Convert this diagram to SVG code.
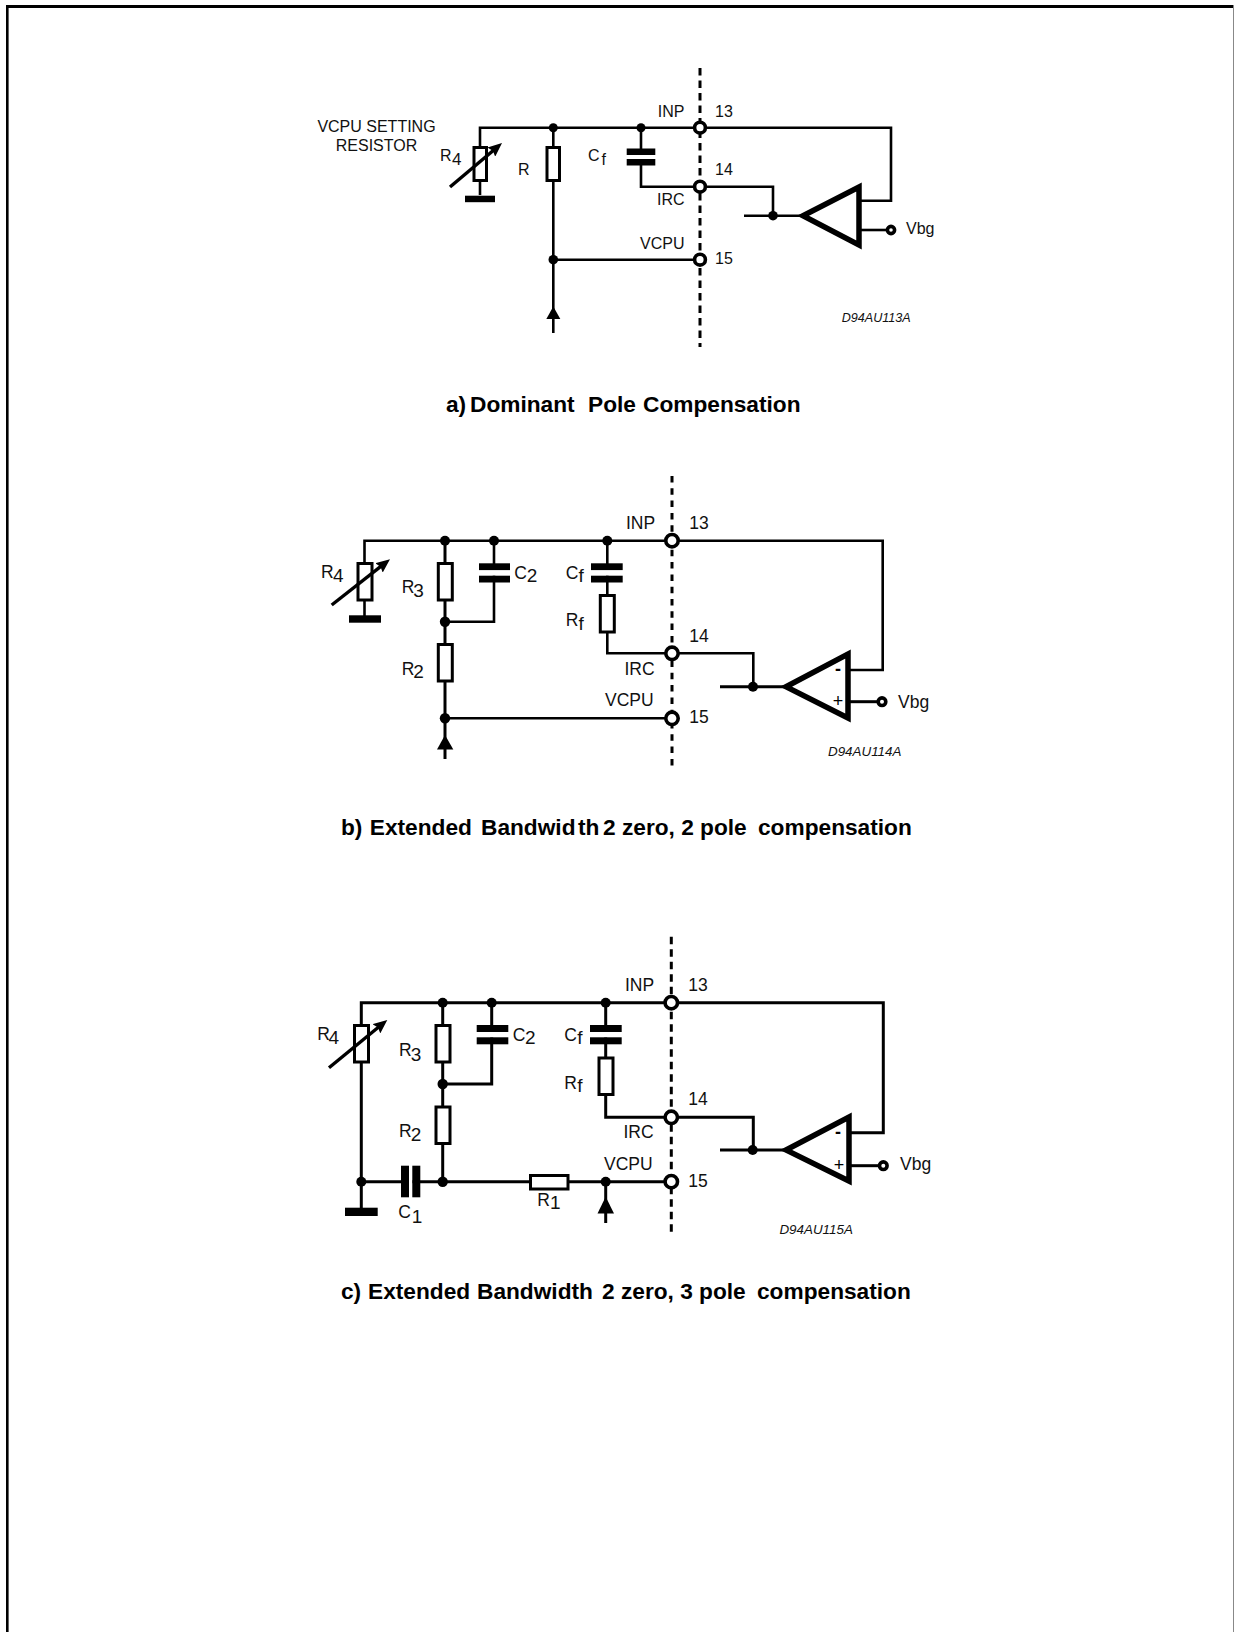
<svg xmlns="http://www.w3.org/2000/svg" width="1234" height="1632" viewBox="0 0 1234 1632">
<style>
text{font-family:"Liberation Sans",Arial,sans-serif;fill:#111}
.l{font-size:16px}
.ls{font-size:17px}
.m{font-size:17.5px}
.ms{font-size:19px}
.d{font-style:italic;font-size:12.6px}
.d2{font-style:italic;font-size:13.4px}
.t{font-weight:bold;font-size:22.7px;fill:#000}
.pm{font-size:18px;fill:#000;text-anchor:middle}
.w{fill:none;stroke:#000;stroke-width:2.6}
.w3{fill:none;stroke:#000;stroke-width:3}
.dash{fill:none;stroke:#000;stroke-width:3;stroke-dasharray:7.5 5}
.dashb{fill:none;stroke:#000;stroke-width:3;stroke-dasharray:6.5 5.8}
.r{fill:#fff;stroke:#000;stroke-width:3}
.b{fill:#000}
.p{fill:#fff;stroke:#000;stroke-width:3.6}
.a{fill:#fff;stroke:#000;stroke-width:5.5;stroke-miterlimit:10}
.v{stroke:#000;stroke-width:3.4;fill:none;marker-end:url(#vr)}
</style>
<defs>
<marker id="vr" viewBox="0 0 16 12" refX="6" refY="6" markerWidth="16" markerHeight="12" orient="auto" markerUnits="userSpaceOnUse"><path d="M0 0L14 6L0 12L2 6z" fill="#000"/></marker>
</defs>
<rect width="1234" height="1632" fill="#fff"/>
<g id="frame">
<rect x="6" y="5" width="2.6" height="1627" fill="#000"/>
<rect x="6" y="5" width="1228" height="3" fill="#000"/>
<rect x="1233" y="5" width="1" height="1627" fill="#888"/>
</g>

<g id="connectors">
<g id="wires-a">
<path class="dash" d="M700 68V347"/>
<path class="w" d="M480 180V127.7H891V200.7H860"/>
<path class="w" d="M480 147V195"/>
<path class="w" d="M553.3 127.7V333"/>
<path class="w" d="M553.3 259.7H700"/>
<path class="w" d="M641 127.7V186.7H773V215.7"/>
<path class="w" d="M744 215.7H805"/>
<path class="w" d="M860 230H888"/>
</g>
<g id="wires-b">
<path class="dashb" d="M672 476V768"/>
<path class="w" d="M364.5 563V540.7H882.7V670H849"/>
<path class="w" d="M364.5 600V616"/>
<path class="w3" d="M445 540.7V759"/>
<path class="w" d="M445 621.7H494V540.7"/>
<path class="w" d="M445 718.3H672"/>
<path class="w" d="M607.3 540.7V653.3H753.3V686.7"/>
<path class="w3" d="M720 686.7H790"/>
<path class="w3" d="M849 701.7H878"/>
</g>
<g id="wires-c">
<path class="dash" d="M671.3 936.7V1232"/>
<path class="w3" d="M361.3 1025V1002.7H883.3V1132.7H850"/>
<path class="w3" d="M361.3 1062V1208"/>
<path class="w3" d="M442.7 1002.7V1181.7"/>
<path class="w3" d="M442.7 1084H491.7V1002.7"/>
<path class="w3" d="M361.3 1181.7H671.3"/>
<path class="w3" d="M605.7 1002.7V1117.3H753.3V1150"/>
<path class="w3" d="M605.7 1181.7V1223"/>
<path class="w3" d="M720 1150H790"/>
<path class="w3" d="M850 1165.7H878"/>
</g>
</g>

<g id="panel-a">
<g id="a-label"><text class="l" x="376.5" y="131.7" text-anchor="middle">VCPU SETTING</text><text class="l" x="376.5" y="151" text-anchor="middle">RESISTOR</text></g>
<g id="a-r4">
<rect class="r" x="474" y="147.5" width="12.5" height="33"/>
<rect class="b" x="465" y="195.7" width="30" height="6.5"/>
<path class="v" d="M450 187L495.9 148.2"/>
<text class="l" x="440" y="161">R</text><text class="ls" x="452" y="164.5">4</text>
</g>
<g id="a-r"><rect class="r" x="547" y="147.5" width="12.5" height="33"/><text class="l" x="518" y="175">R</text></g>
<g id="a-cf"><rect x="626.7" y="155" width="28.6" height="4" fill="#fff"/><rect class="b" x="626.7" y="148.5" width="28.6" height="6.5"/><rect class="b" x="626.7" y="159" width="28.6" height="6.5"/><text class="l" x="588" y="161">C</text><text class="l" x="601.5" y="164.5">f</text></g>
<g id="a-dots"><circle class="b" cx="553.3" cy="127.7" r="4.5"/><circle class="b" cx="641" cy="127.7" r="4.5"/><circle class="b" cx="553.3" cy="259.7" r="4.8"/><circle class="b" cx="773" cy="215.7" r="4.8"/></g>
<g id="a-src"><path class="b" d="M553.3 306.5L560.3 319H546.3z"/></g>
<g id="a-pin13"><circle class="p" cx="700" cy="127.7" r="5.4"/><text class="l" x="657.7" y="117">INP</text><text class="l" x="715" y="117">13</text></g>
<g id="a-pin14"><circle class="p" cx="700" cy="186.7" r="5.4"/><text class="l" x="657" y="205">IRC</text><text class="l" x="715" y="175">14</text></g>
<g id="a-pin15"><circle class="p" cx="700" cy="259.7" r="5.4"/><text class="l" x="640" y="249">VCPU</text><text class="l" x="715" y="264">15</text></g>
<g id="a-amp"><polygon class="a" points="803,215.7 859,187 859,245"/></g>
<g id="a-vbg"><circle class="p" cx="891" cy="230" r="3.6"/><text class="l" x="906" y="234">Vbg</text></g>
<text class="d" x="841.7" y="321.7">D94AU113A</text>
<text class="t" x="446" y="412">a) <tspan x="470">Dominant </tspan><tspan x="588">Pole </tspan><tspan x="643">Compensation</tspan></text>
</g>

<g id="panel-b">
<g id="b-r4">
<rect class="r" x="358" y="563.5" width="14" height="36.5"/>
<rect class="b" x="349" y="615.3" width="32" height="7.4"/>
<path class="v" d="M331.7 605L383.7 564.2"/>
<text class="m" x="321" y="578">R</text><text class="ms" x="333" y="581.7">4</text>
</g>
<g id="b-r3"><rect class="r" x="438.3" y="563.5" width="14" height="36.5"/><text class="m" x="401.7" y="593.3">R</text><text class="ms" x="413.3" y="597">3</text></g>
<g id="b-c2"><rect x="479" y="570" width="31" height="5.7" fill="#fff"/><rect class="b" x="479" y="563.3" width="31" height="6.8"/><rect class="b" x="479" y="575.7" width="31" height="6.8"/><text class="m" x="514.3" y="579">C</text><text class="ms" x="526.7" y="581.7">2</text></g>
<g id="b-cf"><rect x="591" y="570" width="31.7" height="5.7" fill="#fff"/><rect class="b" x="591" y="563.3" width="31.7" height="6.8"/><rect class="b" x="591" y="575.7" width="31.7" height="6.8"/><text class="m" x="565.7" y="579">C</text><text class="ms" x="578.5" y="582">f</text></g>
<g id="b-rf"><rect class="r" x="600.3" y="595.5" width="14" height="36.5"/><text class="m" x="565.7" y="626">R</text><text class="ms" x="578.5" y="630">f</text></g>
<g id="b-r2"><rect class="r" x="438.3" y="644.5" width="14" height="36.5"/><text class="m" x="401.7" y="675">R</text><text class="ms" x="413.3" y="678.3">2</text></g>
<g id="b-dots"><circle class="b" cx="445" cy="540.7" r="5"/><circle class="b" cx="494" cy="540.7" r="5"/><circle class="b" cx="607.3" cy="540.7" r="5"/><circle class="b" cx="445" cy="621.7" r="5.2"/><circle class="b" cx="445" cy="718.3" r="5.2"/><circle class="b" cx="753" cy="686.7" r="5"/></g>
<g id="b-src"><path class="b" d="M445 735L453.3 749.5H437z"/></g>
<g id="b-pin13"><circle class="p" cx="672" cy="540.7" r="6.2"/><text class="m" x="626" y="529">INP</text><text class="m" x="689.3" y="529">13</text></g>
<g id="b-pin14"><circle class="p" cx="672" cy="653.3" r="6.2"/><text class="m" x="624.5" y="675">IRC</text><text class="m" x="689.3" y="641.7">14</text></g>
<g id="b-pin15"><circle class="p" cx="672" cy="718.3" r="6.2"/><text class="m" x="605" y="706">VCPU</text><text class="m" x="689.3" y="723">15</text></g>
<g id="b-amp"><polygon class="a" points="786,686.7 848,654 848,718"/><text class="pm" x="838" y="675" font-weight="bold">-</text><text class="pm" x="838" y="707">+</text></g>
<g id="b-vbg"><circle class="p" cx="882" cy="701.7" r="3.8"/><text class="m" x="898" y="708">Vbg</text></g>
<text class="d2" x="828" y="756">D94AU114A</text>
<text class="t" x="341" y="835">b) <tspan x="369.8">Extended </tspan><tspan x="481">Bandwid</tspan><tspan x="578">th </tspan><tspan x="603">2 zero, 2 pole </tspan><tspan x="758">compensation</tspan></text>
</g>

<g id="panel-c">
<g id="c-r4">
<rect class="r" x="354.5" y="1025.5" width="14" height="36.5"/>
<rect class="b" x="345" y="1207.7" width="32.7" height="8.3"/>
<path class="v" d="M329 1067.7L381.1 1025"/>
<text class="m" x="317.3" y="1040">R</text><text class="ms" x="328.5" y="1044">4</text>
</g>
<g id="c-r3"><rect class="r" x="436" y="1025.5" width="14" height="36.5"/><text class="m" x="399" y="1056">R</text><text class="ms" x="410.7" y="1060.7">3</text></g>
<g id="c-c2"><rect x="476.7" y="1032" width="31.6" height="5.5" fill="#fff"/><rect class="b" x="476.7" y="1025" width="31.6" height="7"/><rect class="b" x="476.7" y="1037.3" width="31.6" height="7"/><text class="m" x="512.7" y="1041">C</text><text class="ms" x="525" y="1044">2</text></g>
<g id="c-cf"><rect x="590" y="1032" width="31.7" height="5.5" fill="#fff"/><rect class="b" x="590" y="1025" width="31.7" height="7"/><rect class="b" x="590" y="1037.3" width="31.7" height="7"/><text class="m" x="564.3" y="1041">C</text><text class="ms" x="577.3" y="1044">f</text></g>
<g id="c-rf"><rect class="r" x="599" y="1058" width="14" height="36.5"/><text class="m" x="564.3" y="1088.7">R</text><text class="ms" x="577.3" y="1092">f</text></g>
<g id="c-r2"><rect class="r" x="436" y="1107" width="14" height="36.5"/><text class="m" x="399" y="1137.3">R</text><text class="ms" x="410.7" y="1141">2</text></g>
<g id="c-c1"><rect x="409" y="1165.7" width="3.5" height="31.6" fill="#fff"/><rect class="b" x="401" y="1165.7" width="8" height="31.6"/><rect class="b" x="412.3" y="1165.7" width="8" height="31.6"/><text class="m" x="398.3" y="1218.3">C</text><text class="ms" x="411.7" y="1223.3">1</text></g>
<g id="c-r1"><rect class="r" x="530.5" y="1175.5" width="37.5" height="13.5"/><text class="m" x="537.3" y="1205.7">R</text><text class="ms" x="550" y="1209.3">1</text></g>
<g id="c-dots"><circle class="b" cx="442.7" cy="1002.7" r="5"/><circle class="b" cx="491.7" cy="1002.7" r="5"/><circle class="b" cx="605.7" cy="1002.7" r="5"/><circle class="b" cx="442.7" cy="1084" r="5.2"/><circle class="b" cx="361.3" cy="1181.7" r="5"/><circle class="b" cx="442.7" cy="1181.7" r="5.2"/><circle class="b" cx="605.7" cy="1181.7" r="5"/><circle class="b" cx="752.7" cy="1150" r="5"/></g>
<g id="c-src"><path class="b" d="M605.7 1196.7L614 1213.5H597.5z"/></g>
<g id="c-pin13"><circle class="p" cx="671.3" cy="1002.7" r="6.2"/><text class="m" x="625" y="991">INP</text><text class="m" x="688.3" y="991">13</text></g>
<g id="c-pin14"><circle class="p" cx="671.3" cy="1117.3" r="6.2"/><text class="m" x="623.5" y="1138.3">IRC</text><text class="m" x="688.3" y="1105">14</text></g>
<g id="c-pin15"><circle class="p" cx="671.3" cy="1181.7" r="6.2"/><text class="m" x="604" y="1170">VCPU</text><text class="m" x="688.3" y="1186.7">15</text></g>
<g id="c-amp"><polygon class="a" points="786,1150 849,1117 849,1181"/><text class="pm" x="838" y="1138" font-weight="bold">-</text><text class="pm" x="839" y="1171">+</text></g>
<g id="c-vbg"><circle class="p" cx="883.3" cy="1165.7" r="3.8"/><text class="m" x="900" y="1170">Vbg</text></g>
<text class="d2" x="779.4" y="1234">D94AU115A</text>
<text class="t" x="341" y="1299">c) <tspan x="368">Extended </tspan><tspan x="477">Bandwidth </tspan><tspan x="602">2 zero, 3 pole </tspan><tspan x="757">compensation</tspan></text>
</g>
</svg>
